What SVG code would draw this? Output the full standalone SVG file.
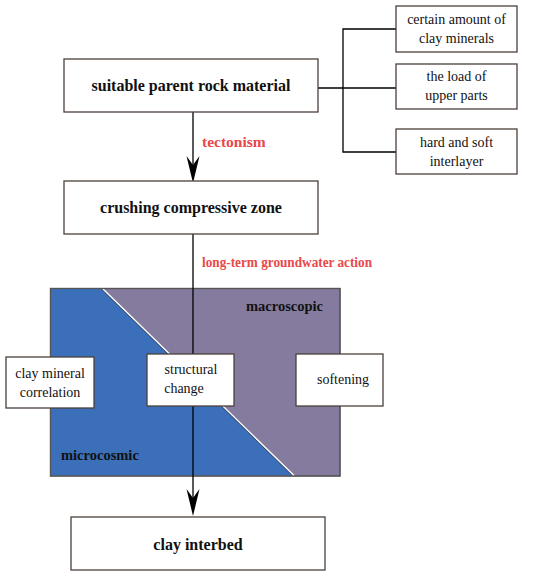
<svg xmlns="http://www.w3.org/2000/svg" width="550" height="577" viewBox="0 0 550 577">
<style>
.box{fill:#fff;stroke:#4a4039;stroke-width:1.3}
.ln{fill:none;stroke:#000;stroke-width:1.3}
.ah{fill:#000}
text{font-family:"Liberation Serif","Times New Roman","DejaVu Serif",serif}
.t{font-size:14px;fill:#111;text-anchor:middle}
.b{font-size:16px;font-weight:bold;fill:#111;text-anchor:middle}
.r{font-size:15.5px;font-weight:bold;fill:#e8484b}
.lb{font-size:14.5px;font-weight:bold;fill:#111}
</style>
<rect width="550" height="577" fill="#fff"/>
<g id="panel">
<rect x="50.5" y="288.5" width="289.5" height="187.5" fill="#857b9e" stroke="#555" stroke-width="1.2"/>
<polygon points="51,289 102,289 293,475.5 51,475.5" fill="#3b6fba"/>
<line x1="103" y1="289" x2="294" y2="475.5" stroke="#fff" stroke-width="1.4"/>
<line x1="101.8" y1="289.5" x2="292.8" y2="476" stroke="#333" stroke-width="0.6"/>
<rect x="50.5" y="288.5" width="289.5" height="187.5" fill="none" stroke="#555" stroke-width="1.2"/>
<text class="lb" x="246" y="311">macroscopic</text>
<text class="lb" x="61" y="460">microcosmic</text>
</g>
<g id="connectors">
<line class="ln" x1="318" y1="88" x2="396" y2="88"/>
<polyline class="ln" points="396,29 343,29 343,152 396,152"/>
<line class="ln" x1="193" y1="112" x2="193" y2="170"/>
<path class="ah" d="M193,183 L186.5,156 L193,165 L199.5,156 Z"/>
<line class="ln" x1="193" y1="234" x2="193" y2="503"/>
<path class="ah" d="M193,516 L186.5,489 L193,498 L199.5,489 Z"/>
<text class="r" x="202" y="147">tectonism</text>
<text class="r" x="202" y="267" textLength="170" lengthAdjust="spacingAndGlyphs">long-term groundwater action</text>
</g>
<g id="n1"><rect class="box" x="64" y="59" width="254" height="53"/><text class="b" x="191" y="91">suitable parent rock material</text></g>
<g id="n2"><rect class="box" x="64" y="181" width="254" height="53"/><text class="b" x="191" y="213">crushing compressive zone</text></g>
<g id="n3"><rect class="box" x="71" y="517" width="254" height="53"/><text class="b" x="198" y="550">clay interbed</text></g>
<g id="f1"><rect class="box" x="396" y="6" width="121" height="46"/><text class="t" x="456.5" y="24">certain amount of</text><text class="t" x="456.5" y="43">clay minerals</text></g>
<g id="f2"><rect class="box" x="396" y="64" width="121" height="45"/><text class="t" x="456.5" y="81">the load of</text><text class="t" x="456.5" y="100">upper parts</text></g>
<g id="f3"><rect class="box" x="396" y="129" width="121" height="45"/><text class="t" x="456.5" y="147">hard and soft</text><text class="t" x="456.5" y="166">interlayer</text></g>
<g id="m1"><rect class="box" x="6" y="357" width="88" height="51"/><text class="t" x="50" y="378">clay mineral</text><text class="t" x="50" y="397">correlation</text></g>
<g id="m2"><rect class="box" x="147" y="354" width="87" height="52"/><text class="t" x="191" y="374">structural</text><text class="t" x="184" y="393">change</text></g>
<g id="m3"><rect class="box" x="296" y="354" width="87" height="52"/><text class="t" x="343" y="384">softening</text></g>
</svg>
